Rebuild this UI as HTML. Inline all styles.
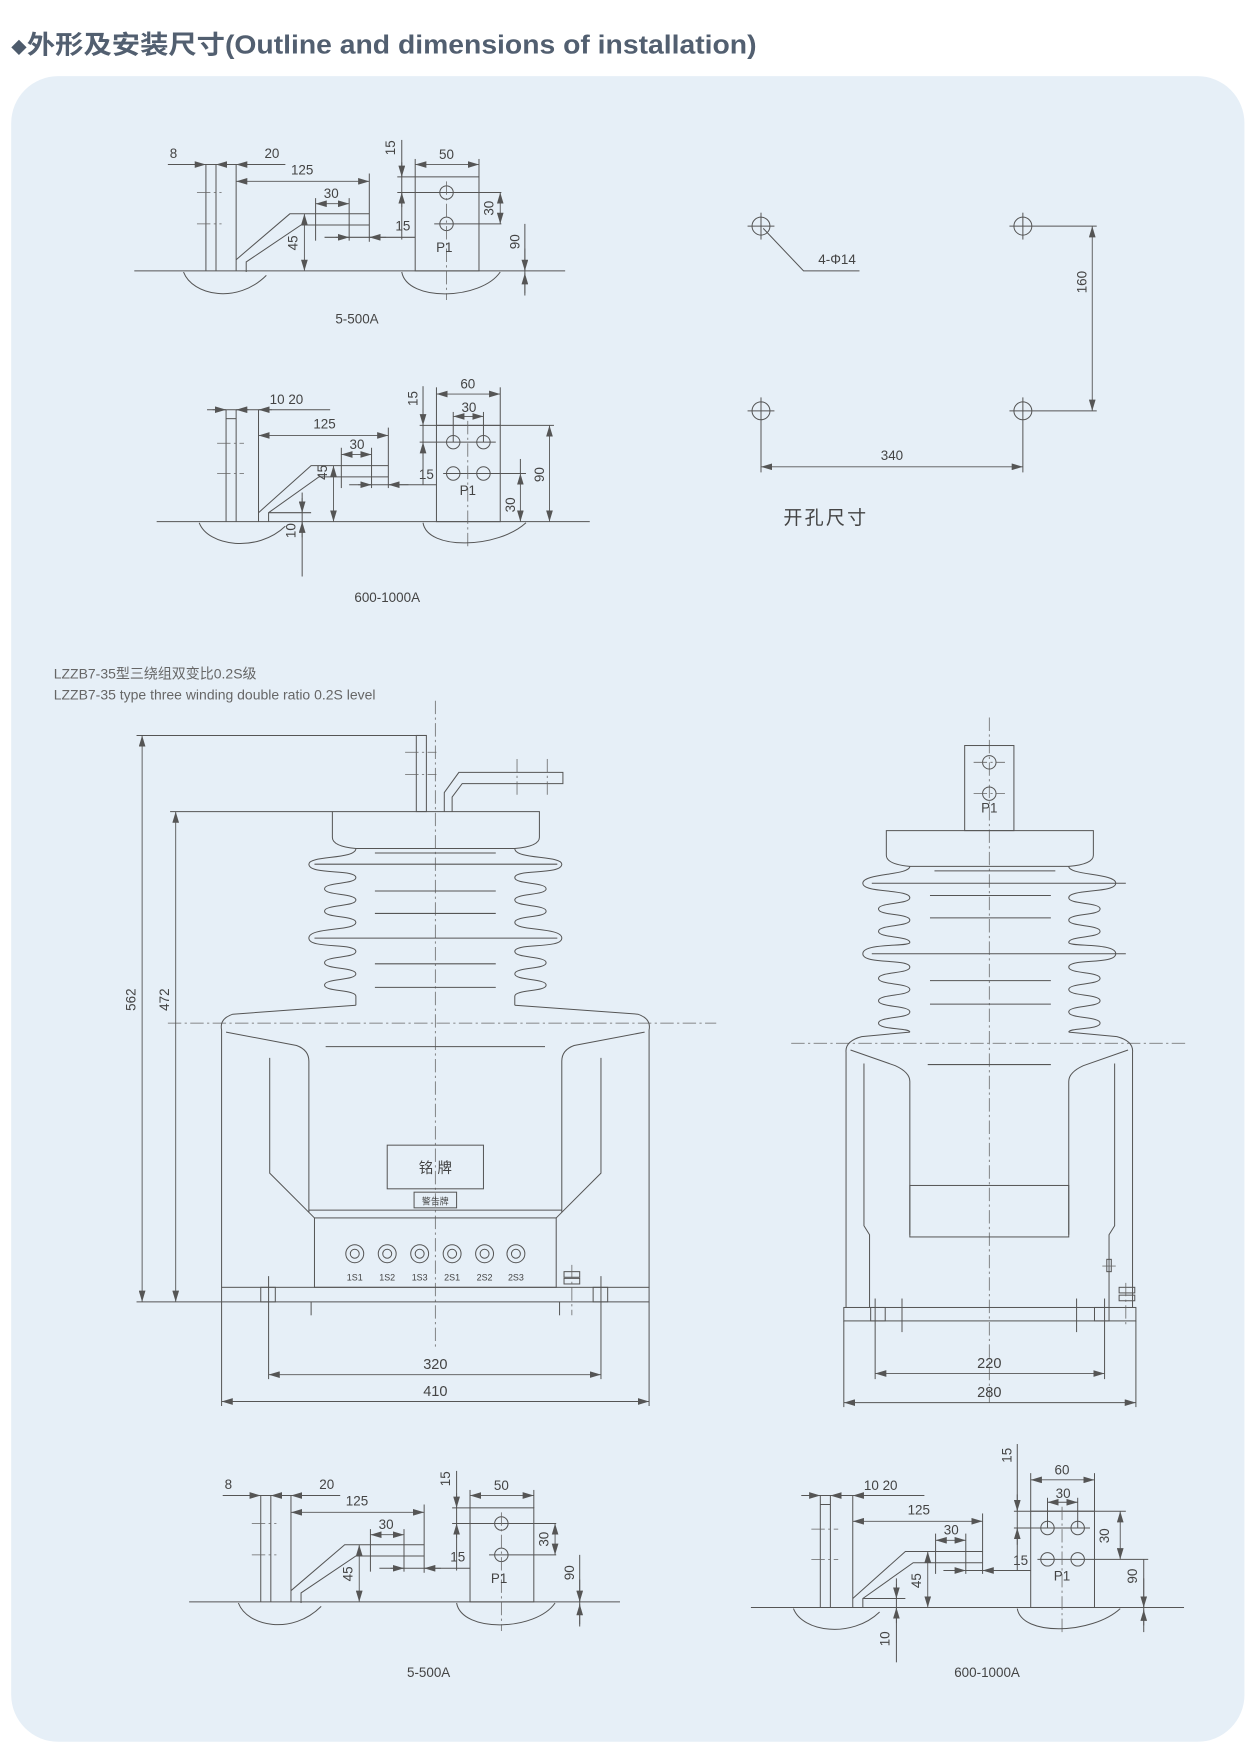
<!DOCTYPE html>
<html><head><meta charset="utf-8"><style>
html,body{margin:0;padding:0;background:#fff;}
svg{display:block;}
.l{stroke:#555;stroke-width:0.9;fill:none;}
.t{fill:#444;font-family:"Liberation Sans","Noto Sans CJK SC",sans-serif;font-size:12px;text-anchor:middle;}
.c{stroke:#666;stroke-width:0.7;fill:none;stroke-dasharray:12 3 2 3;}
.dim{stroke:#555;stroke-width:0.8;fill:none;marker-start:url(#a);marker-end:url(#a);}
.de{stroke:#555;stroke-width:0.8;fill:none;marker-end:url(#a);}
</style></head><body>
<svg width="1259" height="1753" viewBox="0 0 1125 1566" preserveAspectRatio="none" xmlns="http://www.w3.org/2000/svg">
<defs>
<marker id="a" viewBox="0 0 10 6" refX="10" refY="3" markerWidth="10" markerHeight="6" markerUnits="userSpaceOnUse" orient="auto-start-reverse"><path d="M0,0 L10,3 L0,6z" fill="#555"/></marker>
</defs>
<rect x="0" y="0" width="1125" height="1566" fill="#fff"/>
<text x="10" y="48" style="font-family:'Liberation Sans','Noto Sans CJK SC',sans-serif;font-size:14px;fill:#4d5b6c">◆</text>
<text x="24" y="48" textLength="652" lengthAdjust="spacingAndGlyphs" style="font-family:'Liberation Sans','Noto Sans CJK SC',sans-serif;font-size:23px;font-weight:bold;fill:#525f70">外形及安装尺寸(Outline and dimensions of installation)</text>
<rect x="10" y="68" width="1102" height="1488" rx="42" fill="#e6eff7"/>

<!-- ===== 5-500A top ===== -->
<g id="g1">
<line class="l" x1="120" y1="242" x2="505" y2="242"/>
<line class="l" x1="184" y1="147" x2="184" y2="242"/><line class="l" x1="193" y1="147" x2="193" y2="242"/><line class="l" x1="211" y1="147" x2="211" y2="242"/>
<line class="c" x1="176" y1="172" x2="198" y2="172"/><line class="c" x1="176" y1="200" x2="198" y2="200"/>
<line class="l" x1="150" y1="147" x2="255" y2="147"/>
<line class="de" x1="170" y1="147" x2="184" y2="147"/><line class="de" x1="205" y1="147" x2="193" y2="147"/><line class="de" x1="225" y1="147" x2="211" y2="147"/>
<text class="t" x="155" y="141">8</text><text class="t" x="243" y="141">20</text>
<line class="dim" x1="211" y1="162" x2="330" y2="162"/><text class="t" x="270" y="156">125</text>
<line class="l" x1="330" y1="155" x2="330" y2="216"/>
<polyline class="l" points="211,232 259,191 330,191"/>
<polyline class="l" points="220,243 220,234 269,201 330,201"/>
<line class="dim" x1="272" y1="191" x2="272" y2="242"/>
<text class="t" transform="translate(266,217) rotate(-90)">45</text>
<line class="dim" x1="282" y1="182" x2="312" y2="182"/><line class="l" x1="282" y1="177" x2="282" y2="215"/><line class="l" x1="312" y1="177" x2="312" y2="215"/>
<text class="t" x="296" y="177">30</text>
<line class="l" x1="290" y1="212" x2="371" y2="212"/><line class="de" x1="300" y1="212" x2="312" y2="212"/><line class="de" x1="345" y1="212" x2="330" y2="212"/>
<text class="t" x="360" y="206">15</text>
<rect class="l" x="371" y="158" width="57" height="84"/>
<line class="l" x1="355" y1="158" x2="371" y2="158"/>
<line class="l" x1="355" y1="172" x2="448" y2="172"/><line class="l" x1="388" y1="200" x2="448" y2="200"/>
<circle class="l" cx="399" cy="172" r="6"/><circle class="l" cx="399" cy="200" r="6"/>
<line class="c" x1="399" y1="162" x2="399" y2="268"/>
<line class="l" x1="359" y1="125" x2="359" y2="214"/><line class="de" x1="359" y1="145" x2="359" y2="158"/><line class="de" x1="359" y1="185" x2="359" y2="172"/>
<text class="t" transform="translate(353,132) rotate(-90)">15</text>
<line class="dim" x1="371" y1="147" x2="428" y2="147"/><line class="l" x1="371" y1="142" x2="371" y2="158"/><line class="l" x1="428" y1="142" x2="428" y2="158"/>
<text class="t" x="399" y="142">50</text>
<line class="dim" x1="447" y1="172" x2="447" y2="200"/><text class="t" transform="translate(441,186) rotate(-90)">30</text>
<line class="l" x1="469" y1="200" x2="469" y2="264"/><line class="de" x1="469" y1="222" x2="469" y2="242"/><line class="de" x1="469" y1="262" x2="469" y2="244"/>
<text class="t" transform="translate(464,216) rotate(-90)">90</text>
<text class="t" x="397" y="225">P1</text>
<path class="l" d="M164,243 C172,264 212,272 238,246"/>
<path class="l" d="M359,243 C364,270 430,268 447,243"/>
<text class="t" x="319" y="289">5-500A</text>
</g>

<!-- ===== 5-500A bottom (copy) ===== -->
<g transform="translate(49,1189)">
<line class="l" x1="120" y1="242" x2="505" y2="242"/>
<line class="l" x1="184" y1="147" x2="184" y2="242"/><line class="l" x1="193" y1="147" x2="193" y2="242"/><line class="l" x1="211" y1="147" x2="211" y2="242"/>
<line class="c" x1="176" y1="172" x2="198" y2="172"/><line class="c" x1="176" y1="200" x2="198" y2="200"/>
<line class="l" x1="150" y1="147" x2="255" y2="147"/>
<line class="de" x1="170" y1="147" x2="184" y2="147"/><line class="de" x1="205" y1="147" x2="193" y2="147"/><line class="de" x1="225" y1="147" x2="211" y2="147"/>
<text class="t" x="155" y="141">8</text><text class="t" x="243" y="141">20</text>
<line class="dim" x1="211" y1="162" x2="330" y2="162"/><text class="t" x="270" y="156">125</text>
<line class="l" x1="330" y1="155" x2="330" y2="216"/>
<polyline class="l" points="211,232 259,191 330,191"/>
<polyline class="l" points="220,243 220,234 269,201 330,201"/>
<line class="dim" x1="272" y1="191" x2="272" y2="242"/>
<text class="t" transform="translate(266,217) rotate(-90)">45</text>
<line class="dim" x1="282" y1="182" x2="312" y2="182"/><line class="l" x1="282" y1="177" x2="282" y2="215"/><line class="l" x1="312" y1="177" x2="312" y2="215"/>
<text class="t" x="296" y="177">30</text>
<line class="l" x1="290" y1="212" x2="371" y2="212"/><line class="de" x1="300" y1="212" x2="312" y2="212"/><line class="de" x1="345" y1="212" x2="330" y2="212"/>
<text class="t" x="360" y="206">15</text>
<rect class="l" x="371" y="158" width="57" height="84"/>
<line class="l" x1="355" y1="158" x2="371" y2="158"/>
<line class="l" x1="355" y1="172" x2="448" y2="172"/><line class="l" x1="388" y1="200" x2="448" y2="200"/>
<circle class="l" cx="399" cy="172" r="6"/><circle class="l" cx="399" cy="200" r="6"/>
<line class="c" x1="399" y1="162" x2="399" y2="268"/>
<line class="l" x1="359" y1="125" x2="359" y2="214"/><line class="de" x1="359" y1="145" x2="359" y2="158"/><line class="de" x1="359" y1="185" x2="359" y2="172"/>
<text class="t" transform="translate(353,132) rotate(-90)">15</text>
<line class="dim" x1="371" y1="147" x2="428" y2="147"/><line class="l" x1="371" y1="142" x2="371" y2="158"/><line class="l" x1="428" y1="142" x2="428" y2="158"/>
<text class="t" x="399" y="142">50</text>
<line class="dim" x1="447" y1="172" x2="447" y2="200"/><text class="t" transform="translate(441,186) rotate(-90)">30</text>
<line class="l" x1="469" y1="200" x2="469" y2="264"/><line class="de" x1="469" y1="222" x2="469" y2="242"/><line class="de" x1="469" y1="262" x2="469" y2="244"/>
<text class="t" transform="translate(464,216) rotate(-90)">90</text>
<text class="t" x="397" y="225">P1</text>
<path class="l" d="M164,243 C172,264 212,272 238,246"/>
<path class="l" d="M359,243 C364,270 430,268 447,243"/>
<text class="t" x="334" y="309">5-500A</text>
</g>

<!-- ===== 600-1000A mid ===== -->
<g>
<line class="l" x1="140" y1="466" x2="527" y2="466"/>
<line class="l" x1="202" y1="366" x2="202" y2="466"/><line class="l" x1="211" y1="366" x2="211" y2="466"/><line class="l" x1="231" y1="366" x2="231" y2="466"/>
<line class="l" x1="202" y1="374" x2="211" y2="374"/>
<line class="c" x1="194" y1="396" x2="218" y2="396"/><line class="c" x1="194" y1="423" x2="218" y2="423"/>
<line class="l" x1="185" y1="366" x2="295" y2="366"/>
<line class="de" x1="190" y1="366" x2="202" y2="366"/><line class="de" x1="222" y1="366" x2="211" y2="366"/><line class="de" x1="243" y1="366" x2="231" y2="366"/>
<text class="t" x="256" y="361">10 20</text>
<line class="dim" x1="231" y1="389" x2="347" y2="389"/><text class="t" x="290" y="383">125</text>
<line class="l" x1="347" y1="382" x2="347" y2="436"/>
<polyline class="l" points="231,458 278,416 347,416"/>
<polyline class="l" points="240,466 240,458 285,426 347,426"/>
<line class="l" x1="240" y1="458" x2="278" y2="458"/>
<line class="dim" x1="298" y1="416" x2="298" y2="466"/><text class="t" transform="translate(292,422) rotate(-90)">45</text>
<line class="dim" x1="305" y1="406" x2="332" y2="406"/><line class="l" x1="305" y1="400" x2="305" y2="436"/><line class="l" x1="332" y1="400" x2="332" y2="436"/>
<text class="t" x="319" y="401">30</text>
<line class="l" x1="312" y1="433" x2="390" y2="433"/><line class="de" x1="320" y1="433" x2="332" y2="433"/><line class="de" x1="365" y1="433" x2="347" y2="433"/>
<text class="t" x="381" y="428">15</text>
<rect class="l" x="390" y="380" width="57" height="86"/>
<line class="l" x1="375" y1="380" x2="495" y2="380"/>
<line class="l" x1="375" y1="395" x2="443" y2="395"/><line class="l" x1="396" y1="423" x2="470" y2="423"/>
<circle class="l" cx="405" cy="395" r="6"/><circle class="l" cx="432" cy="395" r="6"/><circle class="l" cx="405" cy="423" r="6"/><circle class="l" cx="432" cy="423" r="6"/>
<line class="c" x1="418" y1="376" x2="418" y2="490"/>
<line class="l" x1="378" y1="345" x2="378" y2="433"/><line class="de" x1="378" y1="365" x2="378" y2="380"/><line class="de" x1="378" y1="410" x2="378" y2="395"/>
<text class="t" transform="translate(373,356) rotate(-90)">15</text>
<line class="dim" x1="390" y1="352" x2="447" y2="352"/><line class="l" x1="390" y1="346" x2="390" y2="380"/><line class="l" x1="447" y1="346" x2="447" y2="380"/>
<text class="t" x="418" y="347">60</text>
<line class="dim" x1="405" y1="372" x2="432" y2="372"/><line class="l" x1="405" y1="368" x2="405" y2="395"/><line class="l" x1="432" y1="368" x2="432" y2="395"/>
<text class="t" x="419" y="368">30</text>
<line class="dim" x1="491" y1="380" x2="491" y2="466"/><text class="t" transform="translate(486,424) rotate(-90)">90</text>
<line class="dim" x1="465" y1="423" x2="465" y2="466"/><line class="l" x1="465" y1="410" x2="465" y2="423"/><text class="t" transform="translate(460,451) rotate(-90)">30</text>
<line class="l" x1="270" y1="440" x2="270" y2="515"/><line class="de" x1="270" y1="445" x2="270" y2="458"/><line class="de" x1="270" y1="480" x2="270" y2="466"/>
<text class="t" transform="translate(264,474) rotate(-90)">10</text>
<text class="t" x="418" y="442">P1</text>
<path class="l" d="M178,467 C186,488 230,494 255,470"/>
<path class="l" d="M378,467 C382,492 445,490 470,467"/>
<text class="t" x="346" y="538">600-1000A</text>
</g>

<!-- ===== 600-1000A bottom copy ===== -->
<g transform="translate(531,970)">
<line class="l" x1="140" y1="466" x2="527" y2="466"/>
<line class="l" x1="202" y1="366" x2="202" y2="466"/><line class="l" x1="211" y1="366" x2="211" y2="466"/><line class="l" x1="231" y1="366" x2="231" y2="466"/>
<line class="l" x1="202" y1="374" x2="211" y2="374"/>
<line class="c" x1="194" y1="396" x2="218" y2="396"/><line class="c" x1="194" y1="423" x2="218" y2="423"/>
<line class="l" x1="185" y1="366" x2="295" y2="366"/>
<line class="de" x1="190" y1="366" x2="202" y2="366"/><line class="de" x1="222" y1="366" x2="211" y2="366"/><line class="de" x1="243" y1="366" x2="231" y2="366"/>
<text class="t" x="256" y="361">10 20</text>
<line class="dim" x1="231" y1="389" x2="347" y2="389"/><text class="t" x="290" y="383">125</text>
<line class="l" x1="347" y1="382" x2="347" y2="436"/>
<polyline class="l" points="231,458 278,416 347,416"/>
<polyline class="l" points="240,466 240,458 285,426 347,426"/>
<line class="l" x1="240" y1="458" x2="278" y2="458"/>
<line class="dim" x1="298" y1="416" x2="298" y2="466"/><text class="t" transform="translate(292,442) rotate(-90)">45</text>
<line class="dim" x1="305" y1="406" x2="332" y2="406"/><line class="l" x1="305" y1="400" x2="305" y2="436"/><line class="l" x1="332" y1="400" x2="332" y2="436"/>
<text class="t" x="319" y="401">30</text>
<line class="l" x1="312" y1="433" x2="390" y2="433"/><line class="de" x1="320" y1="433" x2="332" y2="433"/><line class="de" x1="365" y1="433" x2="347" y2="433"/>
<text class="t" x="381" y="428">15</text>
<rect class="l" x="390" y="380" width="57" height="86"/>
<line class="l" x1="375" y1="380" x2="475" y2="380"/>
<line class="l" x1="375" y1="395" x2="443" y2="395"/><line class="l" x1="396" y1="423" x2="495" y2="423"/>
<circle class="l" cx="405" cy="395" r="6"/><circle class="l" cx="432" cy="395" r="6"/><circle class="l" cx="405" cy="423" r="6"/><circle class="l" cx="432" cy="423" r="6"/>
<line class="c" x1="418" y1="376" x2="418" y2="490"/>
<line class="l" x1="378" y1="320" x2="378" y2="433"/><line class="de" x1="378" y1="365" x2="378" y2="380"/><line class="de" x1="378" y1="410" x2="378" y2="395"/>
<text class="t" transform="translate(373,330) rotate(-90)">15</text>
<line class="dim" x1="390" y1="352" x2="447" y2="352"/><line class="l" x1="390" y1="346" x2="390" y2="380"/><line class="l" x1="447" y1="346" x2="447" y2="380"/>
<text class="t" x="418" y="347">60</text>
<line class="dim" x1="405" y1="372" x2="432" y2="372"/><line class="l" x1="405" y1="368" x2="405" y2="395"/><line class="l" x1="432" y1="368" x2="432" y2="395"/>
<text class="t" x="419" y="368">30</text>
<line class="dim" x1="470" y1="380" x2="470" y2="423"/><text class="t" transform="translate(460,402) rotate(-90)">30</text>
<line class="l" x1="491" y1="423" x2="491" y2="488"/><line class="de" x1="491" y1="440" x2="491" y2="466"/><line class="de" x1="491" y1="482" x2="491" y2="468"/>
<text class="t" transform="translate(485,438) rotate(-90)">90</text>
<line class="l" x1="270" y1="440" x2="270" y2="515"/><line class="de" x1="270" y1="445" x2="270" y2="458"/><line class="de" x1="270" y1="480" x2="270" y2="466"/>
<text class="t" transform="translate(264,494) rotate(-90)">10</text>
<text class="t" x="418" y="442">P1</text>
<path class="l" d="M178,467 C186,488 230,494 255,470"/>
<path class="l" d="M378,467 C382,492 445,490 470,467"/>
<text class="t" x="351" y="528">600-1000A</text>
</g>

<!-- ===== holes ===== -->
<g>
<circle class="l" cx="680" cy="202" r="8"/><line class="l" x1="668" y1="202" x2="692" y2="202"/><line class="l" x1="680" y1="190" x2="680" y2="214"/>
<circle class="l" cx="914" cy="202" r="8"/><line class="l" x1="902" y1="202" x2="980" y2="202"/><line class="l" x1="914" y1="190" x2="914" y2="214"/>
<circle class="l" cx="680" cy="367" r="8"/><line class="l" x1="668" y1="367" x2="692" y2="367"/><line class="l" x1="680" y1="355" x2="680" y2="422"/>
<circle class="l" cx="914" cy="367" r="8"/><line class="l" x1="902" y1="367" x2="980" y2="367"/><line class="l" x1="914" y1="355" x2="914" y2="422"/>
<polyline class="l" points="682,204 718,242 768,242"/>
<text class="t" x="748" y="236">4-Φ14</text>
<line class="dim" x1="976" y1="202" x2="976" y2="367"/><text class="t" transform="translate(971,252) rotate(-90)">160</text>
<line class="dim" x1="680" y1="417" x2="914" y2="417"/><text class="t" x="797" y="411">340</text>
<text x="738" y="468" style="font-family:'Liberation Sans','Noto Sans CJK SC',sans-serif;font-size:17px;fill:#444;text-anchor:middle;letter-spacing:2px">开孔尺寸</text>
</g>

<text x="48" y="606" style="font-family:'Liberation Sans','Noto Sans CJK SC',sans-serif;font-size:12.5px;fill:#666">LZZB7-35型三绕组双变比0.2S级</text>
<text x="48" y="625" style="font-family:'Liberation Sans','Noto Sans CJK SC',sans-serif;font-size:12.5px;fill:#666">LZZB7-35 type three winding double ratio 0.2S level</text>

<!-- ===== Left main ===== -->
<g>
<line class="c" x1="389" y1="626" x2="389" y2="1205"/>
<line class="c" x1="150" y1="914" x2="640" y2="914"/>
<line class="l" x1="122" y1="657" x2="381" y2="657"/>
<line class="l" x1="152" y1="725" x2="297" y2="725"/>
<line class="l" x1="122" y1="1163" x2="198" y2="1163"/>
<line class="dim" x1="127" y1="657" x2="127" y2="1163"/><text class="t" transform="translate(121,893) rotate(-90)">562</text>
<line class="dim" x1="157" y1="725" x2="157" y2="1163"/><text class="t" transform="translate(151,893) rotate(-90)">472</text>
<rect class="l" x="372" y="657" width="9" height="68"/>
<line class="c" x1="362" y1="672" x2="390" y2="672"/><line class="c" x1="362" y1="692" x2="390" y2="692"/>
<polyline class="l" points="397,725 397,708 410,690 503,690 503,700 413,700 404,712 404,725"/>
<line class="c" x1="462" y1="678" x2="462" y2="712"/><line class="c" x1="489" y1="678" x2="489" y2="712"/>
<path class="l" d="M297,725 L482,725 L482,748 Q482,756 460,758 L318,758 Q297,756 297,748 Z"/>
<path class="l" d="M318,758 C318,768 276,764 276,772 C276,782 318,776 318,784 C318,790 290,788 290,794 C290,800 318,798 318,804 C318,810 290,808 290,814 C290,820 318,818 318,824 C318,832 276,828 276,838 C276,848 318,842 318,850 C318,856 290,854 290,860 C290,866 318,864 318,870 C318,876 290,874 290,880 C290,886 318,884 318,890 L318,898"/>
<path class="l" d="M460,758 C460,768 502,764 502,772 C502,782 460,776 460,784 C460,790 488,788 488,794 C488,800 460,798 460,804 C460,810 488,808 488,814 C488,820 460,818 460,824 C460,832 502,828 502,838 C502,848 460,842 460,850 C460,856 488,854 488,860 C488,866 460,864 460,870 C460,876 488,874 488,880 C488,886 460,884 460,890 L460,898"/>
<line class="l" x1="281" y1="772" x2="498" y2="772"/><line class="l" x1="281" y1="838" x2="498" y2="838"/>
<line class="l" x1="335" y1="762" x2="443" y2="762"/><line class="l" x1="335" y1="796" x2="443" y2="796"/><line class="l" x1="335" y1="816" x2="443" y2="816"/><line class="l" x1="335" y1="861" x2="443" y2="861"/><line class="l" x1="335" y1="882" x2="443" y2="882"/>
<path class="l" d="M318,898 L208,906 Q196,910 198,920 L198,1150"/>
<path class="l" d="M460,898 L570,906 Q582,910 580,920 L580,1150"/>
<path class="l" d="M202,922 L265,934 Q276,938 276,948 L276,1083"/>
<path class="l" d="M576,922 L513,934 Q502,938 502,948 L502,1083"/>
<path class="l" d="M241,945 L241,1048 L281,1088"/>
<path class="l" d="M537,945 L537,1048 L497,1088"/>
<line class="l" x1="291" y1="935" x2="487" y2="935"/>
<line class="l" x1="276" y1="1081" x2="502" y2="1081"/>
<rect class="l" x="281" y="1088" width="216" height="62"/>
<rect class="l" x="346" y="1023" width="86" height="39"/>
<text class="t" x="389" y="1048" style="font-size:13px">铭 牌</text>
<rect class="l" x="370" y="1065" width="38" height="14"/>
<text class="t" x="389" y="1076" style="font-size:8px">警告牌</text>
<g class="l">
<circle cx="317" cy="1120" r="8"/><circle cx="317" cy="1120" r="4"/>
<circle cx="346" cy="1120" r="8"/><circle cx="346" cy="1120" r="4"/>
<circle cx="375" cy="1120" r="8"/><circle cx="375" cy="1120" r="4"/>
<circle cx="404" cy="1120" r="8"/><circle cx="404" cy="1120" r="4"/>
<circle cx="433" cy="1120" r="8"/><circle cx="433" cy="1120" r="4"/>
<circle cx="461" cy="1120" r="8"/><circle cx="461" cy="1120" r="4"/>
</g>
<g class="t" style="font-size:8px">
<text x="317" y="1144">1S1</text><text x="346" y="1144">1S2</text><text x="375" y="1144">1S3</text><text x="404" y="1144">2S1</text><text x="433" y="1144">2S2</text><text x="461" y="1144">2S3</text>
</g>
<rect class="l" x="198" y="1150" width="382" height="13"/>
<rect class="l" x="233" y="1150" width="13" height="13"/><rect class="l" x="530" y="1150" width="13" height="13"/>
<rect class="l" x="504" y="1136" width="14" height="5"/><rect class="l" x="504" y="1142" width="14" height="5"/>
<line class="c" x1="511" y1="1130" x2="511" y2="1175"/>
<line class="l" x1="240" y1="1140" x2="240" y2="1232"/><line class="l" x1="537" y1="1140" x2="537" y2="1232"/>
<line class="l" x1="198" y1="1163" x2="198" y2="1256"/><line class="l" x1="580" y1="1163" x2="580" y2="1256"/>
<line class="l" x1="278" y1="1163" x2="278" y2="1175"/><line class="l" x1="500" y1="1163" x2="500" y2="1175"/>
<line class="dim" x1="240" y1="1228" x2="537" y2="1228"/><text class="t" x="389" y="1223" style="font-size:13px">320</text>
<line class="dim" x1="198" y1="1252" x2="580" y2="1252"/><text class="t" x="389" y="1247" style="font-size:13px">410</text>
</g>

<!-- ===== Right main ===== -->
<g>
<line class="c" x1="884" y1="641" x2="884" y2="1255"/>
<line class="c" x1="707" y1="932" x2="1062" y2="932"/>
<rect class="l" x="862" y="666" width="44" height="76"/>
<circle class="l" cx="884" cy="681" r="6"/><circle class="l" cx="884" cy="709" r="6"/>
<line class="c" x1="870" y1="681" x2="898" y2="681"/><line class="c" x1="870" y1="709" x2="898" y2="709"/>
<text class="t" x="884" y="726">P1</text>
<path class="l" d="M792,742 L977,742 L977,764 Q977,772 955,774 L813,774 Q792,772 792,764 Z"/>
<path class="l" d="M813,774 C813,782 771,780 771,789 C771,798 813,794 813,802 C813,808 785,806 785,812 C785,818 813,816 813,822 C813,828 785,826 785,832 C785,838 813,836 813,842 C813,846 771,842 771,852 C771,862 813,856 813,864 C813,870 785,868 785,874 C785,880 813,878 813,884 C813,890 785,888 785,894 C785,900 813,898 813,904 C813,910 785,908 785,914 C785,920 813,918 813,922"/>
<path class="l" d="M955,774 C955,782 997,780 997,789 C997,798 955,794 955,802 C955,808 983,806 983,812 C983,818 955,816 955,822 C955,828 983,826 983,832 C983,838 955,836 955,842 C955,846 997,842 997,852 C997,862 955,856 955,864 C955,870 983,868 983,874 C983,880 955,878 955,884 C955,890 983,888 983,894 C983,900 955,898 955,904 C955,910 983,908 983,914 C983,920 955,918 955,922"/>
<line class="l" x1="779" y1="789" x2="1006" y2="789"/><line class="l" x1="779" y1="852" x2="1006" y2="852"/>
<line class="l" x1="835" y1="778" x2="943" y2="778"/><line class="l" x1="831" y1="800" x2="939" y2="800"/><line class="l" x1="831" y1="820" x2="939" y2="820"/><line class="l" x1="831" y1="876" x2="939" y2="876"/><line class="l" x1="831" y1="897" x2="939" y2="897"/>
<path class="l" d="M813,922 L770,926 Q755,930 756,940 L756,1168"/>
<path class="l" d="M955,922 L998,926 Q1013,930 1012,940 L1012,1168"/>
<path class="l" d="M760,938 L800,952 Q813,958 813,966 L813,1103"/>
<path class="l" d="M1008,938 L968,952 Q955,958 955,966 L955,1103"/>
<path class="l" d="M772,950 L772,1095 L777,1103 L777,1168"/>
<path class="l" d="M996,950 L996,1095 L991,1103 L991,1168"/>
<line class="l" x1="829" y1="951" x2="939" y2="951"/>
<rect class="l" x="813" y="1059" width="142" height="46"/>
<rect class="l" x="754" y="1168" width="261" height="12"/>
<rect class="l" x="778" y="1168" width="13" height="12"/><rect class="l" x="978" y="1168" width="13" height="12"/>
<rect class="l" x="1000" y="1150" width="14" height="5"/><rect class="l" x="1000" y="1157" width="14" height="5"/>
<rect class="l" x="989" y="1125" width="4" height="11"/><line class="c" x1="985" y1="1131" x2="998" y2="1131"/>
<line class="c" x1="1006" y1="1146" x2="1006" y2="1185"/>
<line class="l" x1="782" y1="1160" x2="782" y2="1232"/><line class="l" x1="987" y1="1160" x2="987" y2="1232"/>
<line class="l" x1="806" y1="1160" x2="806" y2="1190"/><line class="l" x1="962" y1="1160" x2="962" y2="1190"/>
<line class="l" x1="754" y1="1180" x2="754" y2="1257"/><line class="l" x1="1015" y1="1180" x2="1015" y2="1257"/>
<line class="dim" x1="782" y1="1227" x2="987" y2="1227"/><text class="t" x="884" y="1222" style="font-size:13px">220</text>
<line class="dim" x1="754" y1="1253" x2="1015" y2="1253"/><text class="t" x="884" y="1248" style="font-size:13px">280</text>
</g>
</svg>
</body></html>
